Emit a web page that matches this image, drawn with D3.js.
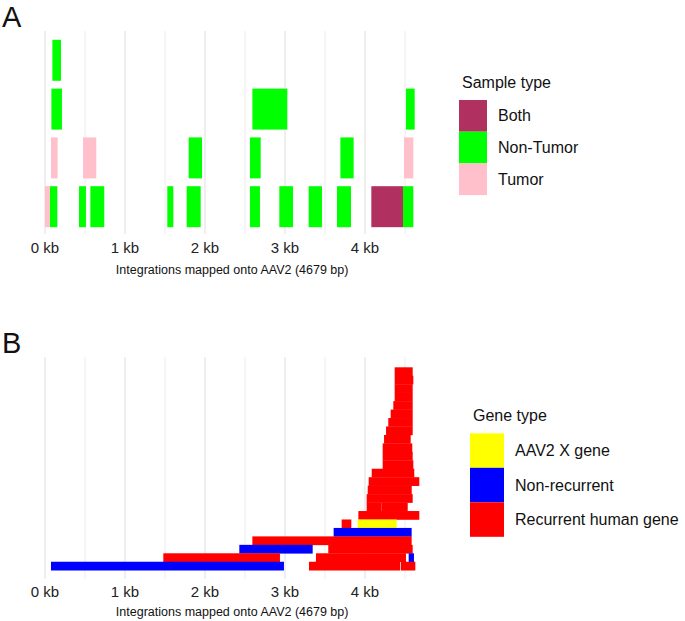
<!DOCTYPE html>
<html>
<head>
<meta charset="utf-8">
<script src="https://cdn.jsdelivr.net/npm/d3@7"></script>
<style>
  body { margin: 0; background: #fff; }
  svg { display: block; font-family: "Liberation Sans", Arial, sans-serif; }
</style>
</head>
<body>
<svg id="chart" width="685" height="621"></svg>
<script>
// x axis, shared by both panels (AAV2 genome, bp)
var genomeLength = 4679;
var majorTicks = [0, 1000, 2000, 3000, 4000];
var tickLabels = ["0 kb", "1 kb", "2 kb", "3 kb", "4 kb"];
var minorTicks = [500, 1500, 2500, 3500, 4500];

// panel A: integration sites by sample type
var sampleRows = [1, 2, 3, 4];
var sampleTypes = ["Both", "Non-Tumor", "Tumor"];
var sampleColors = ["#b03060", "#00ff00", "#ffc0cb"];
var sampleRow   = [1, 2, 2, 2, 3, 3, 3, 3, 3, 3, 4, 4, 4, 4, 4, 4, 4, 4, 4, 4, 4, 4];
var sampleStart = [92, 80, 2592, 4512, 75, 475, 1796, 2562, 3692, 4487, 0, 62, 425, 567, 1529, 1771, 2562, 2929, 3296, 3650, 4079, 4475];
var sampleEnd   = [200, 212, 3029, 4621, 158, 641, 1963, 2696, 3858, 4604, 62, 154, 512, 741, 1604, 1946, 2687, 3100, 3462, 3825, 4475, 4604];
var sampleType  = ["Non-Tumor", "Non-Tumor", "Non-Tumor", "Non-Tumor", "Tumor", "Tumor", "Non-Tumor", "Non-Tumor", "Non-Tumor", "Tumor",
                   "Tumor", "Non-Tumor", "Non-Tumor", "Non-Tumor", "Non-Tumor", "Non-Tumor", "Non-Tumor", "Non-Tumor", "Non-Tumor", "Non-Tumor", "Both", "Non-Tumor"];

// panel B: integrations by gene type, row 1 = top
var geneRowCount = 24;
var geneTypes = ["AAV2 X gene", "Non-recurrent", "Recurrent human gene"];
var geneColors = ["#ffff00", "#0000ff", "#ff0000"];
var geneRow   = [1, 2, 3, 4, 5, 6, 7, 8, 9, 10, 11, 12, 13, 14, 15, 16, 17, 17, 18, 19, 19, 20, 21, 22, 22, 23, 23, 23, 24, 24, 24];
var geneStart = [4371, 4371, 4371, 4371, 4354, 4321, 4291, 4263, 4238, 4221, 4221, 4221, 4084, 4046, 4034, 4021, 4021, 4208, 3917, 3708, 3908, 3608, 2592, 2429, 3541, 1479, 3387, 4546, 75, 3300, 4450];
var geneEnd   = [4596, 4604, 4596, 4596, 4596, 4596, 4596, 4596, 4571, 4591, 4596, 4604, 4616, 4679, 4584, 4596, 4208, 4534, 4679, 3829, 4396, 4583, 4583, 3346, 4596, 2937, 4512, 4612, 2987, 4441, 4629];
var geneType  = ["Recurrent human gene", "Recurrent human gene", "Recurrent human gene", "Recurrent human gene", "Recurrent human gene",
                 "Recurrent human gene", "Recurrent human gene", "Recurrent human gene", "Recurrent human gene", "Recurrent human gene",
                 "Recurrent human gene", "Recurrent human gene", "Recurrent human gene", "Recurrent human gene", "Recurrent human gene",
                 "Recurrent human gene", "Recurrent human gene", "Recurrent human gene", "Recurrent human gene", "Recurrent human gene",
                 "AAV2 X gene", "Non-recurrent", "Recurrent human gene", "Non-recurrent", "Recurrent human gene",
                 "Recurrent human gene", "Recurrent human gene", "Non-recurrent", "Non-recurrent", "Recurrent human gene", "Recurrent human gene"];

var axisTitle = "Integrations mapped onto AAV2 (4679 bp)";

var svg = d3.select("#chart");
var x = d3.scaleLinear().domain([0, genomeLength]).range([45, 45 + genomeLength * 0.08]);

function drawGrid(top, bottom) {
    var g = svg.append("g");
    g.selectAll("line.minor").data(minorTicks).enter().append("line")
        .attr("x1", function (d) { return x(d); }).attr("x2", function (d) { return x(d); })
        .attr("y1", top).attr("y2", bottom)
        .attr("stroke", "#ececec").attr("stroke-width", 1);
    g.selectAll("line.major").data(majorTicks).enter().append("line")
        .attr("x1", function (d) { return x(d); }).attr("x2", function (d) { return x(d); })
        .attr("y1", top).attr("y2", bottom)
        .attr("stroke", "#e6e6e6").attr("stroke-width", 1.3);
}

function drawAxis(labelY, titleY) {
    svg.append("g").selectAll("text").data(majorTicks).enter().append("text")
        .attr("x", function (d) { return x(d); })
        .attr("y", labelY)
        .attr("text-anchor", "middle")
        .attr("font-size", 15)
        .attr("fill", "#222")
        .text(function (d, i) { return tickLabels[i]; });
    svg.append("text")
        .attr("x", (x(0) + x(genomeLength)) / 2)
        .attr("y", titleY)
        .attr("text-anchor", "middle")
        .attr("font-size", 12.5)
        .attr("fill", "#111")
        .text(axisTitle);
}

function drawLegend(title, types, color, left, top, keyW, keyH) {
    var g = svg.append("g").attr("transform", "translate(" + left + "," + top + ")");
    g.append("text").attr("x", 3).attr("y", -12).attr("font-size", 16).attr("fill", "#111").text(title);
    types.forEach(function (t, i) {
        g.append("rect").attr("x", 0).attr("y", i * keyH)
            .attr("width", keyW).attr("height", keyH).attr("fill", color(t));
        g.append("text").attr("x", keyW + 11).attr("y", i * keyH + keyH / 2)
            .attr("dy", "0.35em").attr("font-size", 16).attr("fill", "#111").text(t);
    });
}

// ---- panel A ----
var yA = d3.scaleBand().domain(sampleRows).range([32, 235]).paddingInner(0.16).paddingOuter(0.16);
var colorA = d3.scaleOrdinal().domain(sampleTypes).range(sampleColors);
drawGrid(31, 234);
svg.append("g").selectAll("rect").data(d3.range(sampleStart.length)).enter().append("rect")
    .attr("x", function (i) { return x(sampleStart[i]); })
    .attr("width", function (i) { return x(sampleEnd[i]) - x(sampleStart[i]); })
    .attr("y", function (i) { return yA(sampleRow[i]); })
    .attr("height", yA.bandwidth())
    .attr("fill", function (i) { return colorA(sampleType[i]); });
drawAxis(253, 274);
drawLegend("Sample type", sampleTypes, colorA, 459, 100, 28, 31.7);
svg.append("text").attr("x", 2).attr("y", 26.5).attr("font-size", 29).attr("fill", "#111").text("A");

// ---- panel B ----
var yB = d3.scaleBand().domain(d3.range(1, geneRowCount + 1)).range([367.3, 570.2]);
var colorB = d3.scaleOrdinal().domain(geneTypes).range(geneColors);
drawGrid(357, 579);
svg.append("g").selectAll("rect").data(d3.range(geneStart.length)).enter().append("rect")
    .attr("x", function (i) { return x(geneStart[i]); })
    .attr("width", function (i) { return x(geneEnd[i]) - x(geneStart[i]); })
    .attr("y", function (i) { return yB(geneRow[i]); })
    .attr("height", yB.bandwidth() + 0.3)
    .attr("fill", function (i) { return colorB(geneType[i]); });
drawAxis(597, 616);
drawLegend("Gene type", geneTypes, colorB, 470, 433.3, 34, 34.5);
svg.append("text").attr("x", 2).attr("y", 353).attr("font-size", 29).attr("fill", "#111").text("B");
</script>
</body>
</html>
